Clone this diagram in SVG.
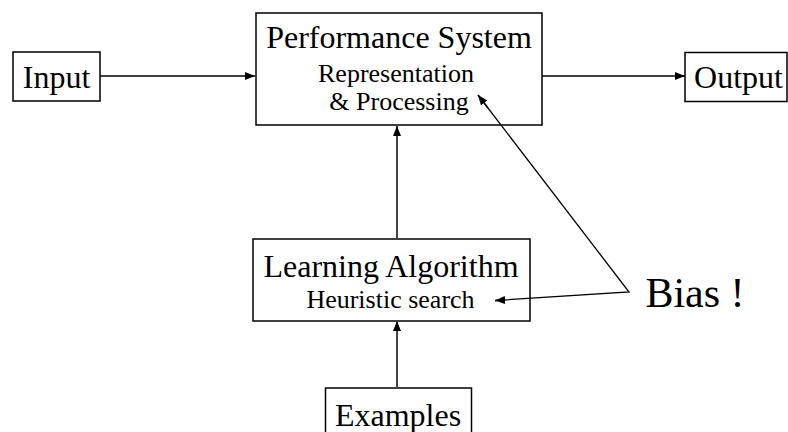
<svg xmlns="http://www.w3.org/2000/svg" width="788" height="432" viewBox="0 0 788 432">
<defs>
<style>
.box{fill:none;stroke:#000;stroke-width:1.5}
.t{font-family:"Liberation Serif","Times New Roman",serif;fill:#000;text-anchor:middle}
.big{font-size:32px}
.small{font-size:26px}
.c{fill:none;stroke:#000;stroke-width:1.3}
.g{stroke:#444;stroke-width:2}
</style>
<marker id="ah" viewBox="0 0 10 10" refX="10" refY="5" markerWidth="10" markerHeight="10" markerUnits="userSpaceOnUse" orient="auto">
<path d="M0,1 L10,5 L0,9 Z" fill="#000"/>
</marker>
</defs>
<rect width="788" height="432" fill="#fff"/>
<g id="input">
<rect class="box" x="13" y="52" width="87" height="49"/>
<text class="t big" x="56.5" y="88">Input</text>
</g>
<g id="performance">
<rect class="box" x="256" y="13" width="286" height="112"/>
<text class="t big" x="399" y="48">Performance System</text>
<text class="t small" x="396" y="82">Representation</text>
<text class="t small" x="399" y="110">&amp; Processing</text>
</g>
<g id="output">
<rect class="box" x="685" y="52.5" width="102" height="49"/>
<text class="t big" x="738.5" y="88">Output</text>
</g>
<g id="learning">
<rect class="box" x="253" y="239" width="277" height="82"/>
<text class="t big" x="391" y="277">Learning Algorithm</text>
<text class="t small" x="390.5" y="308">Heuristic search</text>
</g>
<g id="examples">
<rect class="box" x="325.5" y="388" width="146" height="50"/>
<text class="t big" x="398" y="426">Examples</text>
</g>
<g id="bias">
<text class="t" style="font-size:42px" x="695" y="307">Bias !</text>
</g>
<g id="connectors">
<line class="c" x1="100" y1="76" x2="255" y2="76" marker-end="url(#ah)"/>
<line class="c" x1="542" y1="76" x2="685" y2="76" marker-end="url(#ah)"/>
<line class="c g" x1="397" y1="239" x2="397" y2="126" marker-end="url(#ah)"/>
<line class="c g" x1="397" y1="388" x2="397" y2="321" marker-end="url(#ah)"/>
<polyline class="c" points="478,95 629,292 495,300.5"/>
<line class="c" x1="488" y1="108" x2="478" y2="95" marker-end="url(#ah)"/>
<line class="c" x1="505" y1="300" x2="495" y2="300.6" marker-end="url(#ah)"/>
</g>
</svg>
